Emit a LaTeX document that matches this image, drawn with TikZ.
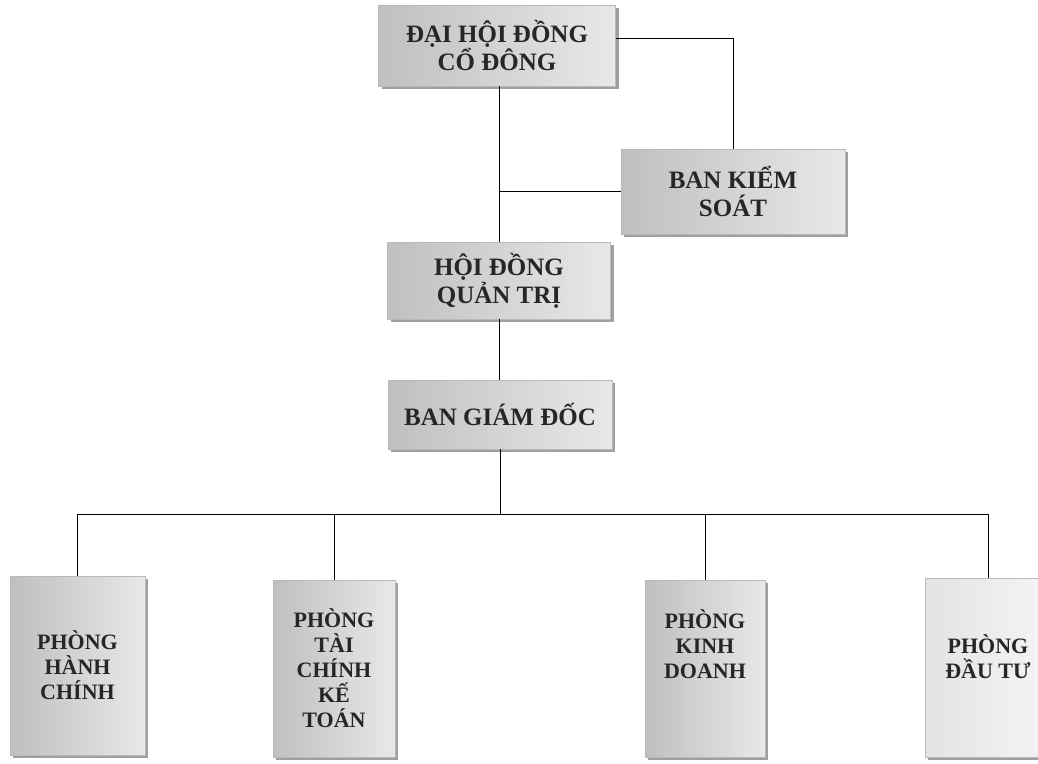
\documentclass[tikz,border=0pt]{standalone}
\usepackage{fontspec}
\setmainfont{Liberation Serif}
\usetikzlibrary{shadows}
\begin{document}
\begin{tikzpicture}[x=1pt,y=-1pt,
  box/.style={draw=gray!55,line width=0.4pt,left color=gray!50,right color=gray!18,
    drop shadow={shadow xshift=3pt,shadow yshift=-3pt,fill=gray!75,opacity=1},
    text=black!85,align=center,inner sep=0pt,font=\fontsize{25}{28}\selectfont\bfseries},
  dept/.style={box,font=\fontsize{22}{25}\selectfont\bfseries},
  link/.style={line width=1pt}]
  \useasboundingbox (0,0) rectangle (1038,763);
  \node[box,minimum width=237pt,minimum height=81pt] (dhdcd) at (497,45.5) {ĐẠI HỘI ĐỒNG\\CỔ ĐÔNG};
  \node[box,minimum width=224pt,minimum height=85pt] (bks) at (733,191.5) {BAN KIỂM\\SOÁT};
  \node[box,minimum width=223pt,minimum height=77pt] (hdqt) at (499,280.5) {HỘI ĐỒNG\\QUẢN TRỊ};
  \node[box,minimum width=224pt,minimum height=69pt] (bgd) at (500,414.5) {BAN GIÁM ĐỐC};
  \node[dept,minimum width=135pt,minimum height=179pt] (phc) at (77.5,665.5) {PHÒNG\\HÀNH\\CHÍNH};
  \node[dept,minimum width=122pt,minimum height=177pt] (ptckt) at (334,668.5) {PHÒNG\\TÀI\\CHÍNH\\KẾ\\TOÁN};
  \node[dept,minimum width=120pt,minimum height=177pt,text depth=48pt] (pkd) at (705,668.5) {PHÒNG\\KINH\\DOANH};
  \node[dept,minimum width=126pt,minimum height=179pt,text depth=22pt,left color=gray!22,right color=gray!8] (pdt) at (988,667.5) {PHÒNG\\ĐẦU TƯ};
  \coordinate (bus) at (499,514);
  \draw[link] (hdqt.north) -- (hdqt.north |- dhdcd.south);
  \draw[link] ([yshift=7pt]dhdcd.east) -| (bks.north);
  \draw[link] (bks.west) -- (bks.west -| hdqt.north);
  \draw[link] (hdqt.south) -- (hdqt.south |- bgd.north);
  \draw[link] (bgd.south) -- (bgd.south |- bus);
  \draw[link] (phc.north |- bus) -- (pdt.north |- bus);
  \draw[link] (phc.north) -- (phc.north |- bus);
  \draw[link] (ptckt.north) -- (ptckt.north |- bus);
  \draw[link] (pkd.north) -- (pkd.north |- bus);
  \draw[link] (pdt.north) -- (pdt.north |- bus);
\end{tikzpicture}
\end{document}
